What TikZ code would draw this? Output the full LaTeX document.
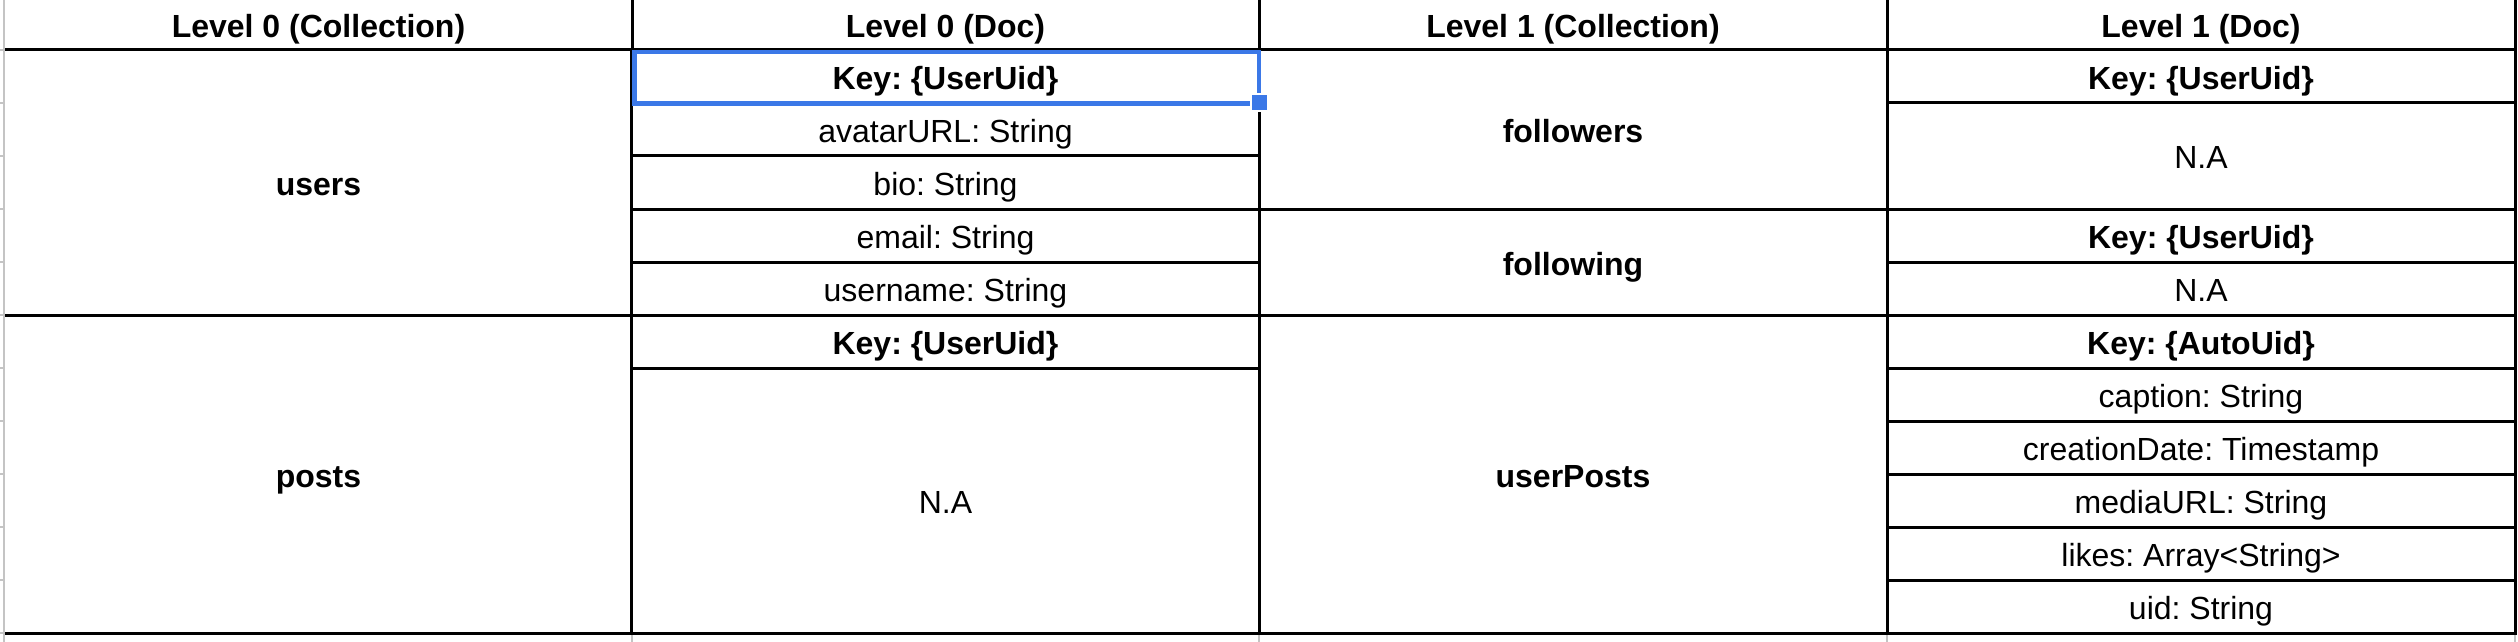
\documentclass[tikz,border=0pt]{standalone}
\usepackage{fontspec}
\setmainfont{Liberation Sans}
\frenchspacing
\definecolor{selblue}{RGB}{59,120,231}
\definecolor{sheetgray}{RGB}{196,196,196}
\tikzset{
    cell/.style={draw=black, line width=1.5pt, inner sep=0pt, outer sep=0pt,
        minimum width=314pt, minimum height=26.5pt, text height=13pt, text depth=0pt,
        font=\fontsize{16}{19}\selectfont},
    boldcell/.style={cell, font=\fontsize{16}{19}\selectfont\bfseries},
    blank/.style={boldcell, draw=none},
    head/.style={blank, minimum height=25pt},
    rule/.style={draw=black, line width=1.5pt},
    sheetline/.style={draw=sheetgray, line width=1pt},
    selection/.style={draw=selblue, line width=2.25pt},
    handle/.style={fill=selblue, draw=white, line width=1pt, inner sep=0pt, minimum size=8.5pt},
}

\begin{document}
\begin{tikzpicture}[x=0.5pt, y=-0.5pt]
	\useasboundingbox (0,0) rectangle (2518,642);
	% header row
	\node[head] (h0) at (318.5,25) {Level 0 (Collection)};
	\node[head] (h1) at (945.5,25) {Level 0 (Doc)};
	\node[head] (h2) at (1573,25) {Level 1 (Collection)};
	\node[head] (h3) at (2201,25) {Level 1 (Doc)};
	\foreach \n in {h0,h1,h2,h3}
		\draw[rule] (\n.north east) -- (\n.south east);
	% level 0 collection
	\node[blank, minimum height=132.5pt] (users) at (318.5,182.5) {users};
	\node[blank, minimum height=159pt] (posts) at (318.5,474) {posts};
	\draw[rule] (users.north west) -- (users.north east);
	\draw[rule] (users.south west) -- (users.south east);
	\draw[rule] (posts.south west) -- (posts.south east);
	% level 0 doc
	\node[boldcell] (k0) at (945.5,76.5) {Key: \{UserUid\}};
	\foreach \f [count=\i] in {avatarURL: String, bio: String, email: String, username: String}
		\node[cell] (f\i) at (945.5,{76.5+53*\i}) {\f};
	\node[boldcell] (pk) at (945.5,341.5) {Key: \{UserUid\}};
	\node[cell, minimum height=132.5pt] (pna) at (945.5,500.5) {N.A};
	% level 1 collection
	\node[boldcell, minimum height=79.5pt] (followers) at (1573,129.5) {followers};
	\node[boldcell, minimum height=53pt] (following) at (1573,262) {following};
	\node[boldcell, minimum height=159pt] (userposts) at (1573,474) {userPosts};
	% level 1 doc
	\node[boldcell] (fk) at (2201,76.5) {Key: \{UserUid\}};
	\node[cell, minimum height=53pt] (fna) at (2201,156) {N.A};
	\node[boldcell] (gk) at (2201,235.5) {Key: \{UserUid\}};
	\node[cell] (gna) at (2201,288.5) {N.A};
	\node[boldcell] (uk) at (2201,341.5) {Key: \{AutoUid\}};
	\foreach \f [count=\i] in {caption: String, creationDate: Timestamp, mediaURL: String, likes: Array<String>, uid: String}
		\node[cell] (u\i) at (2201,{341.5+53*\i}) {\f};
	% sheet grid outside the table
	\draw[sheetline] (4,0) -- (4,642);
	\foreach \y in {50,103,...,633}
		\draw[sheetline] (0,\y) -- (4,\y);
	\foreach \x in {632,1259,1887,2515}
		\draw[sheetline] (\x,635) -- (\x,642);
	% selected cell
	\draw[selection] ([shift={(3,2)}]k0.north west) rectangle ([shift={(-0.5,0.5)}]k0.south east);
	\node[handle] (grip) at (k0.south east) {};
\end{tikzpicture}
\end{document}
